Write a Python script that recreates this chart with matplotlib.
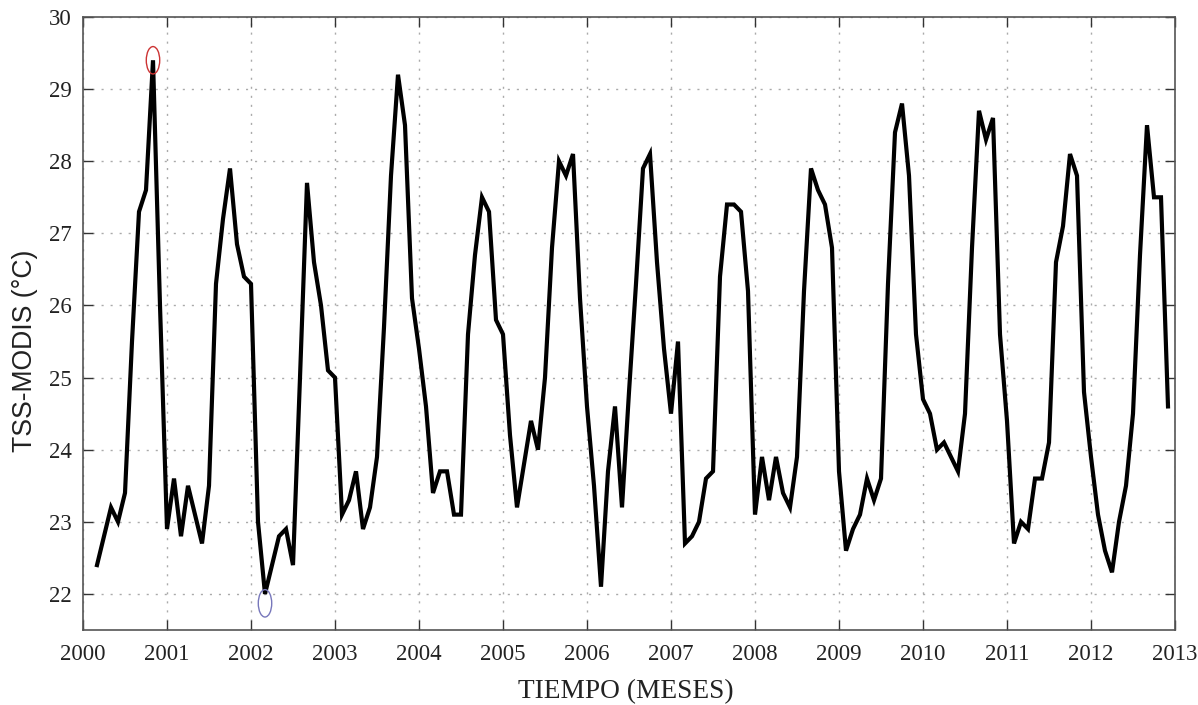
import matplotlib
matplotlib.use("Agg")
import matplotlib.pyplot as plt
import numpy as np
from matplotlib.patches import Ellipse

# Monthly sea surface temperature (MODIS), Mar 2000 - Dec 2012
start_year = 2000
start_month_index = 2  # March 2000 -> 2000 + 2/12
tss = [
    22.4, 22.8, 23.2, 23.0, 23.4, 25.5, 27.3, 27.6, 29.4, 26.0,          # 2000 Mar-Dec
    22.9, 23.6, 22.8, 23.5, 23.1, 22.7, 23.5, 26.3, 27.2, 27.9, 26.85, 26.4,   # 2001
    26.3, 23.0, 22.0, 22.4, 22.8, 22.9, 22.4, 25.0, 27.7, 26.6, 26.0, 25.1,    # 2002
    25.0, 23.1, 23.3, 23.7, 22.9, 23.2, 23.9, 25.7, 27.8, 29.2, 28.5, 26.1,    # 2003
    25.4, 24.6, 23.4, 23.7, 23.7, 23.1, 23.1, 25.6, 26.7, 27.5, 27.3, 25.8,    # 2004
    25.6, 24.2, 23.2, 23.8, 24.4, 24.0, 25.0, 26.8, 28.0, 27.8, 28.1, 26.1,    # 2005
    24.6, 23.5, 22.1, 23.7, 24.6, 23.2, 24.8, 26.3, 27.9, 28.1, 26.6, 25.4,    # 2006
    24.5, 25.5, 22.7, 22.8, 23.0, 23.6, 23.7, 26.4, 27.4, 27.4, 27.3, 26.2,    # 2007
    23.1, 23.9, 23.3, 23.9, 23.4, 23.2, 23.9, 26.2, 27.9, 27.6, 27.4, 26.8,    # 2008
    23.7, 22.6, 22.9, 23.1, 23.6, 23.3, 23.6, 26.3, 28.4, 28.8, 27.8, 25.6,    # 2009
    24.7, 24.5, 24.0, 24.1, 23.9, 23.7, 24.5, 26.8, 28.7, 28.3, 28.6, 25.6,    # 2010
    24.4, 22.7, 23.0, 22.9, 23.6, 23.6, 24.1, 26.6, 27.1, 28.1, 27.8, 24.8,    # 2011
    23.9, 23.1, 22.6, 22.3, 23.0, 23.5, 24.5, 26.7, 28.5, 27.5, 27.5, 24.6,    # 2012
]
x_ticks = list(range(2000, 2014))
y_ticks = list(range(22, 31))
max_mark = (2000 + 10 / 12, 29.4)
min_mark = (2002 + 2 / 12, 21.87)

time = start_year + (start_month_index + np.arange(len(tss))) / 12.0

plt.rcParams['font.family'] = ['Liberation Serif', 'DejaVu Serif']

fig = plt.figure(figsize=(11.98, 7.05), dpi=100)
ax = fig.add_axes([83 / 1198, 1 - 630 / 705, (1175 - 83) / 1198, (630 - 17) / 705])

ax.plot(time, tss, color='black', linewidth=3.0, solid_joinstyle='miter', zorder=3)

ax.add_patch(Ellipse(max_mark, width=0.16, height=0.38, fill=False,
                     edgecolor='#cc3333', linewidth=1.0, zorder=4))
ax.add_patch(Ellipse(min_mark, width=0.16, height=0.38, fill=False,
                     edgecolor='#7777bb', linewidth=1.0, zorder=4))

ax.set_xlim(2000, 2013)
ax.set_ylim(21.5, 30)
ax.set_xticks(x_ticks)
ax.set_yticks(y_ticks)
ax.set_xticklabels([str(v) for v in x_ticks], fontsize=16.5)
ax.set_yticklabels([str(v) for v in y_ticks], fontsize=16.5)
ax.tick_params(direction='in', length=7, width=1, top=True, right=True,
               colors='#333333', labelcolor='#222222')
ax.tick_params(axis='x', pad=10)
ax.tick_params(axis='y', pad=8)
ax.grid(True, linestyle=(0, (1.5, 5)), color='#aaaaaa', linewidth=1.0)
for s in ax.spines.values():
    s.set_color('#555555')
    s.set_linewidth(1.2)

ax.set_xlabel('TIEMPO (MESES)', fontsize=19.7, color='#222222')
ax.xaxis.set_label_coords((626 - 83) / 1092, -(692 - 630) / 613)
ax.xaxis.label.set_verticalalignment('center')
ax.set_ylabel('TSS-MODIS (°C)', fontsize=19.2, color='#222222',
              family=['Liberation Sans', 'DejaVu Sans'])
ax.yaxis.set_label_coords(-(83 - 25) / 1092, (630 - 351) / 613)
ax.yaxis.label.set_verticalalignment('center')

fig.savefig('out.png', dpi=100, facecolor='white')
